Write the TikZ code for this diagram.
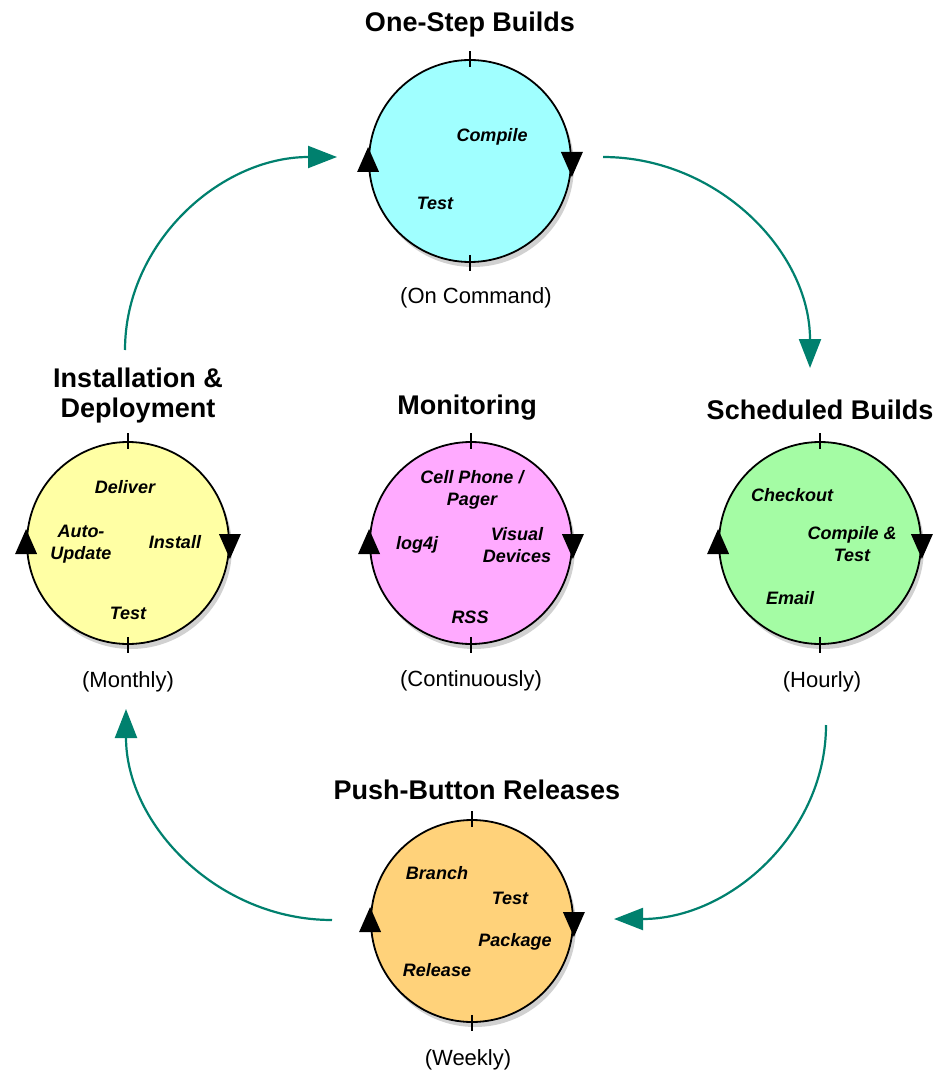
\documentclass[tikz,border=0pt]{standalone}
\usepackage{fontspec}
\setmainfont{Liberation Sans}
\usetikzlibrary{arrows.meta,shadows}
\definecolor{arrowteal}{RGB}{0,128,110}
\definecolor{cyanfill}{RGB}{160,255,255}
\definecolor{yellowfill}{RGB}{255,255,164}
\definecolor{pinkfill}{RGB}{255,170,255}
\definecolor{greenfill}{RGB}{164,252,164}
\definecolor{orangefill}{RGB}{255,210,122}
\begin{document}
\begin{tikzpicture}[x=1pt,y=-1pt,
  stage/.style={circle, draw=black, line width=1.8pt, minimum size=202pt, inner sep=0pt,
    drop shadow={shadow xshift=3pt, shadow yshift=-5pt, opacity=0.18, fill=black}},
  title/.style={font=\fontsize{27}{30}\selectfont\bfseries, align=center},
  freq/.style={font=\fontsize{22}{24}\selectfont},
  item/.style={font=\fontsize{18}{22}\selectfont\bfseries\itshape, align=center},
  flow/.style={draw=arrowteal, line width=2.2pt, -{Triangle[length=29pt,width=22pt]}},
  tick/.style={line width=1.4pt},
]
\useasboundingbox (0,0) rectangle (941,1075);

% circles
\node[stage, fill=cyanfill]   (onestep) at (470,161) {};
\node[stage, fill=yellowfill] (install) at (128,543) {};
\node[stage, fill=pinkfill]   (monitor) at (471,543) {};
\node[stage, fill=greenfill]  (sched)   at (820,543) {};
\node[stage, fill=orangefill] (push)    at (472,921) {};

% ticks and direction marks
\foreach \c in {onestep,install,monitor,sched,push}{
  \draw[tick] ([yshift=8pt]\c.north) -- ([yshift=-8pt]\c.north);
  \draw[tick] ([yshift=8pt]\c.south) -- ([yshift=-8pt]\c.south);
  \fill ([shift={(-11pt,-11pt)}]\c.west) -- ([shift={(11pt,-11pt)}]\c.west) -- ([yshift=14pt]\c.west) -- cycle;
  \fill ([shift={(-11pt,9pt)}]\c.east) -- ([shift={(11pt,9pt)}]\c.east) -- ([yshift=-16pt]\c.east) -- cycle;
}

% titles
\node[title] (t1) at (470,25) {One-Step Builds};
\node[title] (t2) at (138,396) {Installation \&\\Deployment};
\node[title] (t3) at (467,408) {Monitoring};
\node[title] (t4) at (820,410) {Scheduled Builds};
\node[title] (t5) at (477,790) {Push-Button Releases};

% frequencies
\node[freq] (f1) at (476,298) {(On Command)};
\node[freq] (f2) at (128,682) {(Monthly)};
\node[freq] (f3) at (471,681) {(Continuously)};
\node[freq] (f4) at (822,682) {(Hourly)};
\node[freq] (f5) at (468,1060) {(Weekly)};

% items
\node[item] (a1) at (492,137) {Compile};
\node[item] (a2) at (435,203) {Test};

\node[item] (b1) at (125,487) {Deliver};
\node[item] (b2) at (81,544) {Auto-\\Update};
\node[item] (b3) at (175,542) {Install};
\node[item] (b4) at (128,613) {Test};

\node[item] (c1) at (472,490) {Cell Phone /\\Pager};
\node[item] (c2) at (417,545) {log4j};
\node[item] (c3) at (517,545) {Visual\\Devices};
\node[item] (c4) at (470,617) {RSS};

\node[item] (d1) at (792,495) {Checkout};
\node[item] (d2) at (852,544) {Compile \&\\Test};
\node[item] (d3) at (790,598) {Email};

\node[item] (e1) at (437,873) {Branch};
\node[item] (e2) at (510,898) {Test};
\node[item] (e3) at (515,942) {Package};
\node[item] (e4) at (437,970) {Release};

% flow arrows
\coordinate (s1) at (125,350);  \coordinate (e1p) at (337,157);
\coordinate (s2) at (603,157);  \coordinate (e2p) at (810,368);
\coordinate (s3) at (826,725);  \coordinate (e3p) at (614,919);
\coordinate (s4) at (332,920);  \coordinate (e4p) at (126,709);
\draw[flow] (s1) .. controls (125,243) and (220,157) .. (e1p);
\draw[flow] (s2) .. controls (717,157) and (810,251) .. (e2p);
\draw[flow] (s3) .. controls (826,832) and (731,919) .. (e3p);
\draw[flow] (s4) .. controls (218,920) and (126,825) .. (e4p);
\end{tikzpicture}
\end{document}
